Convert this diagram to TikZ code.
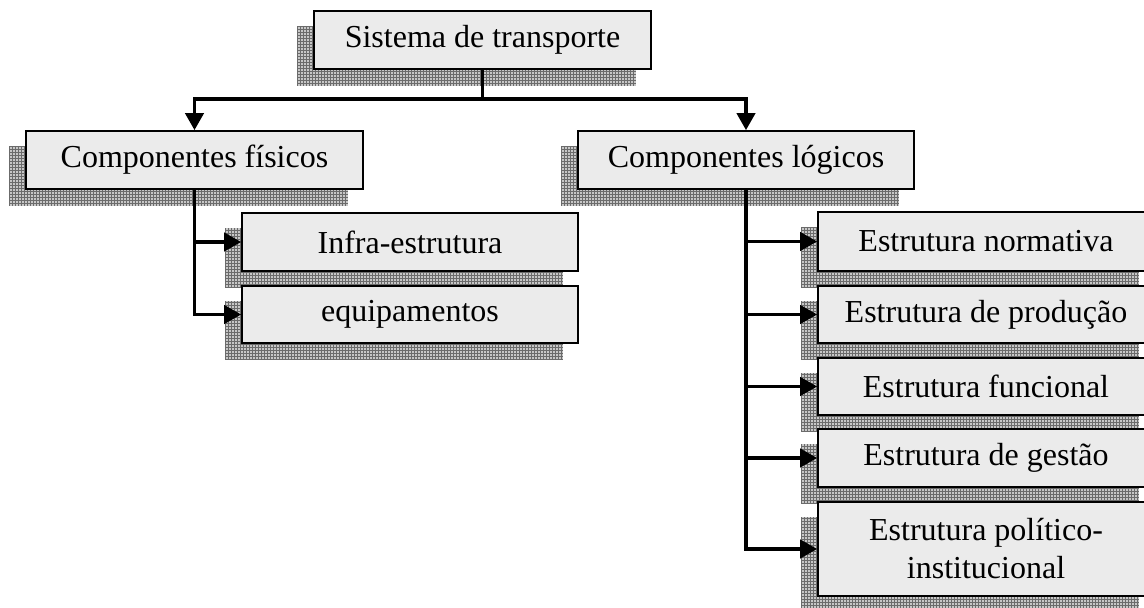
\documentclass[tikz,border=0pt]{standalone}
\usepackage{fontspec}
\setmainfont{Liberation Serif}
\usetikzlibrary{arrows.meta,patterns,backgrounds}
\begin{document}
\begin{tikzpicture}[x=1pt,y=-1pt,
  box/.style={draw=black, line width=1.6pt, fill=black!8, rectangle, inner sep=0pt,
    font=\fontsize{32}{38}\selectfont, align=center},
  conn/.style={line width=3.8pt, line join=miter},
  arr/.style={conn, -{Triangle[length=17pt,width=18pt]}},
  shadowfill/.style={fill=black!22, postaction={pattern=grid, pattern color=black!58}}
]
\useasboundingbox (0,0) rectangle (1144,608);
\clip (0,0) rectangle (1144,608);

\node[box, minimum width=337pt, minimum height=58pt] (top) at (482.5,40) {Sistema de transporte};
\node[box, minimum width=337pt, minimum height=58pt] (fis) at (194.5,160) {Componentes físicos};
\node[box, minimum width=336pt, minimum height=58pt] (log) at (746,160) {Componentes lógicos};
\node[box, minimum width=336pt, minimum height=58pt] (infra) at (410,242) {Infra-estrutura};
\node[box, minimum width=336pt, minimum height=57pt] (equip) at (410,314.5) {equipamentos};
\node[box, minimum width=336pt, minimum height=59pt] (norm) at (986,241.5) {Estrutura normativa};
\node[box, minimum width=336pt, minimum height=57pt] (prod) at (986,314.5) {Estrutura de produção};
\node[box, minimum width=336pt, minimum height=57pt] (func) at (986,386.5) {Estrutura funcional};
\node[box, minimum width=336pt, minimum height=58pt] (gest) at (986,458) {Estrutura de gestão};
\node[box, minimum width=336pt, minimum height=94pt] (pol) at (986,549) {Estrutura político-\\institucional};

\begin{scope}[on background layer]
\fill[white] (0,0) rectangle (1144,608);
\foreach \n in {top,fis,log,infra,equip,norm,prod,func,gest,pol}{
  \path[shadowfill] ([shift={(-16,16)}]\n.south west) rectangle ([shift={(-16,16)}]\n.north east);
}
\end{scope}

\coordinate (j) at (top.south |- 0,99);
\draw[conn] (top.south) -- (j);
\draw[arr] (j) -| (fis.north);
\draw[arr] (j) -| (log.north);

\draw[arr] (fis.south) |- (infra.west);
\draw[arr] (fis.south) |- (equip.west);

\draw[arr] (log.south) |- (norm.west);
\draw[arr] (log.south) |- (prod.west);
\draw[arr] (log.south) |- (func.west);
\draw[arr] (log.south) |- (gest.west);
\draw[arr] (log.south) |- (pol.west);
\end{tikzpicture}
\end{document}
